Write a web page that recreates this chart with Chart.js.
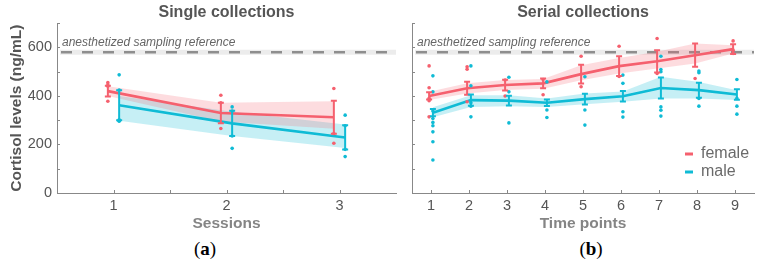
<!DOCTYPE html>
<html><head><meta charset="utf-8">
<script src="https://cdn.jsdelivr.net/npm/chart.js@4"></script>
<style>
body{margin:0;background:#fff;width:762px;height:268px;overflow:hidden;position:relative;font-family:'Liberation Sans',Arial,sans-serif}
#c1{position:absolute;left:0;top:0}
#c2{position:absolute;left:400px;top:0}
.lab{position:absolute;top:238px;font-family:'Liberation Serif','Times New Roman',serif;font-size:19px;color:#000;width:40px;text-align:center}
</style></head><body>
<canvas id="c1" width="400" height="233"></canvas>
<canvas id="c2" width="362" height="233"></canvas>
<div class="lab" style="left:185px">(<b>a</b>)</div>
<div class="lab" style="left:571px">(<b>b</b>)</div>
<script>
// ---------- data ----------
const sessions = ['1', '2', '3'];
const timePoints = ['1', '2', '3', '4', '5', '6', '7', '8', '9'];
const yTickValues = [0, 100, 200, 300, 400, 500, 600, 700];
const yLabelValues = [0, 200, 400, 600];
const REF_LEVEL = 580;
const REF_LABEL = 'anesthetized sampling reference';

// Single collections
const singleFemaleMean = [420, 330, 312];
const singleFemaleErr = [22, 42, 68];
const singleFemaleLo = [400, 295, 265];
const singleFemaleHi = [440, 372, 378];
const singleMaleMean = [362, 287, 229];
const singleMaleErr = [62, 52, 50];
const singleMaleLo = [298, 235, 185];
const singleMaleHi = [400, 335, 282];
const singleFemaleDots = [[455, 445, 440, 378], [403, 266, 372], [431, 205, 245]];
const singleMaleDots = [[487, 302, 298, 296, 424], [355, 184, 235, 338], [321, 150, 180, 277]];

// Serial collections
const serialFemaleMean = [400, 432, 445, 452, 490, 523, 543, 568, 593];
const serialFemaleErr = [15, 27, 22, 20, 39, 41, 46, 48, 20];
const serialFemaleLo = [383, 410, 425, 430, 465, 493, 513, 534, 575];
const serialFemaleHi = [417, 452, 466, 470, 527, 557, 582, 616, 609];
const serialMaleMean = [331, 383, 381, 372, 387, 399, 433, 424, 406];
const serialMaleErr = [15, 23, 20, 13, 22, 22, 43, 31, 22];
const serialMaleLo = [312, 355, 358, 355, 366, 376, 390, 390, 383];
const serialMaleHi = [353, 403, 403, 390, 410, 418, 479, 458, 424];
const serialFemaleDots = [
  [524, 434, 390, 380, 314], [520, 510, 376], [466, 400], [468, 405],
  [564, 438], [605, 480], [637, 493], [472], [627, 589, 575]
];
const serialMaleDots = [
  [483, 417, 338, 307, 291, 277, 252, 211, 136], [524, 442, 372, 358, 314],
  [477, 417, 289], [458, 342, 311], [479, 342, 280], [486, 452, 335, 313],
  [564, 509, 500, 355, 341, 317], [503, 496, 390, 358], [468, 390, 358, 325]
];

// ---------- style ----------
const FEMALE = '#F5606E', MALE = '#0FBBD5';
const FEMALE_BAND = 'rgba(245,96,110,0.22)', MALE_BAND = 'rgba(15,187,213,0.24)';
const FONT = "'Liberation Sans', Arial, sans-serif";
const OFF = 0.05;
Chart.defaults.font.family = FONT;

function seriesSets(mean, lo, hi, dots, off, color, band) {
  const pos = i => i + 1 + off;
  return [
    { type: 'line', data: lo.map((v, i) => ({ x: pos(i), y: v })), borderWidth: 0, pointRadius: 0, fill: false, order: 3 },
    { type: 'line', data: hi.map((v, i) => ({ x: pos(i), y: v })), borderWidth: 0, pointRadius: 0, fill: '-1', backgroundColor: band, order: 3 },
    { type: 'line', data: mean.map((v, i) => ({ x: pos(i), y: v })), borderColor: color, borderWidth: 2.6, pointRadius: 0, fill: false, order: 2 },
    { type: 'scatter', data: dots.flatMap((arr, i) => arr.map(v => ({ x: pos(i), y: v }))), backgroundColor: color, pointRadius: 1.8, pointBorderWidth: 0, order: 1 }
  ];
}

function decor(errs, legend) {
  return {
    id: 'decor',
    beforeDatasetsDraw(chart) {
      const { ctx, chartArea: a, scales: { y } } = chart;
      const yp = y.getPixelForValue(REF_LEVEL);
      ctx.save();
      ctx.strokeStyle = '#ececec'; ctx.lineWidth = 5;
      ctx.beginPath(); ctx.moveTo(a.left + 3, yp); ctx.lineTo(a.right, yp); ctx.stroke();
      ctx.strokeStyle = '#8e8e8e'; ctx.lineWidth = 2.6; ctx.setLineDash([11, 10]);
      ctx.beginPath(); ctx.moveTo(a.left + 4, yp); ctx.lineTo(a.right, yp); ctx.stroke();
      ctx.setLineDash([]);
      ctx.font = 'italic 12px ' + FONT; ctx.fillStyle = '#666';
      ctx.textBaseline = 'middle'; ctx.textAlign = 'left';
      ctx.fillText(REF_LABEL, a.left + 5, yp - 10);
      ctx.restore();
    },
    afterDatasetsDraw(chart) {
      const { ctx, scales: { x, y } } = chart;
      ctx.save();
      ctx.lineWidth = 2;
      errs.forEach(s => {
        ctx.strokeStyle = s.color;
        s.mean.forEach((m, i) => {
          const px = x.getPixelForValue(i + 1 + s.off);
          const t = y.getPixelForValue(m + s.err[i]), b = y.getPixelForValue(m - s.err[i]);
          ctx.beginPath();
          ctx.moveTo(px, t); ctx.lineTo(px, b);
          ctx.moveTo(px - 3, t); ctx.lineTo(px + 3, t);
          ctx.moveTo(px - 3, b); ctx.lineTo(px + 3, b);
          ctx.stroke();
        });
      });
      ctx.restore();
    },
    afterDraw(chart) {
      const { ctx, chartArea: a, scales: { x, y } } = chart;
      ctx.save();
      ctx.strokeStyle = '#888'; ctx.lineWidth = 1;
      ctx.beginPath();
      y.ticks.forEach(t => {
        if (t.value === y.min) return;
        const py = Math.round(y.getPixelForValue(t.value)) + 0.5;
        ctx.moveTo(a.left, py); ctx.lineTo(a.left + 3, py);
      });
      x.ticks.forEach(t => {
        const px = Math.round(x.getPixelForValue(t.value)) + 0.5;
        ctx.moveTo(px, a.bottom); ctx.lineTo(px, a.bottom - 3);
      });
      ctx.stroke();
      if (legend) {
        ctx.font = '16px ' + FONT; ctx.textBaseline = 'middle'; ctx.textAlign = 'left';
        legend.forEach((l, k) => {
          const ly = a.bottom - 39 + k * 18;
          ctx.strokeStyle = l.color; ctx.lineWidth = 3;
          ctx.beginPath(); ctx.moveTo(a.right - 69, ly); ctx.lineTo(a.right - 61, ly); ctx.stroke();
          ctx.fillStyle = '#6a6a6a';
          ctx.fillText(l.label, a.right - 53, ly);
        });
      }
      ctx.restore();
    }
  };
}

function makeChart(id, cfg) {
  const xTickVals = cfg.xTicks;
  return new Chart(document.getElementById(id), {
    type: 'line',
    data: {
      datasets: [
        ...seriesSets(cfg.fMean, cfg.fLo, cfg.fHi, cfg.fDots, -OFF, FEMALE, FEMALE_BAND),
        ...seriesSets(cfg.mMean, cfg.mLo, cfg.mHi, cfg.mDots, OFF, MALE, MALE_BAND)
      ]
    },
    options: {
      responsive: false, animation: false, devicePixelRatio: 1,
      layout: { padding: { left: 0, right: cfg.padRight, top: 0, bottom: 0 } },
      plugins: {
        legend: { display: false }, tooltip: { enabled: false },
        title: { display: true, text: cfg.title, fullSize: false, color: '#555',
                 font: { size: 16, weight: 'bold' }, padding: { top: 3, bottom: 1 } }
      },
      scales: {
        x: {
          type: 'linear', min: 0.5, max: cfg.cats.length + 0.5,
          afterBuildTicks: s => { s.ticks = xTickVals.map(v => ({ value: v })); },
          afterFit: s => { s.height = 40; },
          grid: { display: true, drawOnChartArea: false, drawTicks: false },
          border: { display: true, color: '#888', width: 1 },
          ticks: { color: '#555', font: { size: 14.5 }, padding: 4, maxRotation: 0, autoSkip: false,
                   callback: v => (Number.isInteger(v) ? cfg.cats[v - 1] : '') },
          title: { display: true, text: cfg.xTitle, color: '#858585', font: { size: 15.5, weight: 'bold' }, padding: { top: 0, bottom: 0 } }
        },
        y: {
          min: 0, max: 700,
          afterBuildTicks: s => { s.ticks = yTickValues.map(v => ({ value: v })); },
          afterFit: s => { s.width = cfg.yWidth; },
          grid: { display: true, drawOnChartArea: false, drawTicks: false },
          border: { display: true, color: '#888', width: 1 },
          ticks: { display: cfg.showY, color: '#555', font: { size: 14.5 }, padding: 5, autoSkip: false,
                   callback: v => (yLabelValues.includes(v) ? String(v) : '') },
          title: { display: cfg.showY, text: 'Cortisol levels (ng/mL)', color: '#555', font: { size: 15.5, weight: 'bold' }, padding: { top: 7, bottom: 0 } }
        }
      }
    },
    plugins: [decor([
      { mean: cfg.fMean, err: cfg.fErr, color: FEMALE, off: -OFF },
      { mean: cfg.mMean, err: cfg.mErr, color: MALE, off: OFF }
    ], cfg.legend)]
  });
}

makeChart('c1', {
  title: 'Single collections', xTitle: 'Sessions', cats: sessions,
  xTicks: [1, 1.5, 2, 2.5, 3], yWidth: 57, padRight: 4, showY: true,
  fMean: singleFemaleMean, fErr: singleFemaleErr, fLo: singleFemaleLo, fHi: singleFemaleHi, fDots: singleFemaleDots,
  mMean: singleMaleMean, mErr: singleMaleErr, mLo: singleMaleLo, mHi: singleMaleHi, mDots: singleMaleDots,
  legend: null
});
makeChart('c2', {
  title: 'Serial collections', xTitle: 'Time points', cats: timePoints,
  xTicks: [1, 2, 3, 4, 5, 6, 7, 8, 9], yWidth: 12, padRight: 8, showY: false,
  fMean: serialFemaleMean, fErr: serialFemaleErr, fLo: serialFemaleLo, fHi: serialFemaleHi, fDots: serialFemaleDots,
  mMean: serialMaleMean, mErr: serialMaleErr, mLo: serialMaleLo, mHi: serialMaleHi, mDots: serialMaleDots,
  legend: [{ label: 'female', color: FEMALE }, { label: 'male', color: MALE }]
});
</script>
</body></html>
